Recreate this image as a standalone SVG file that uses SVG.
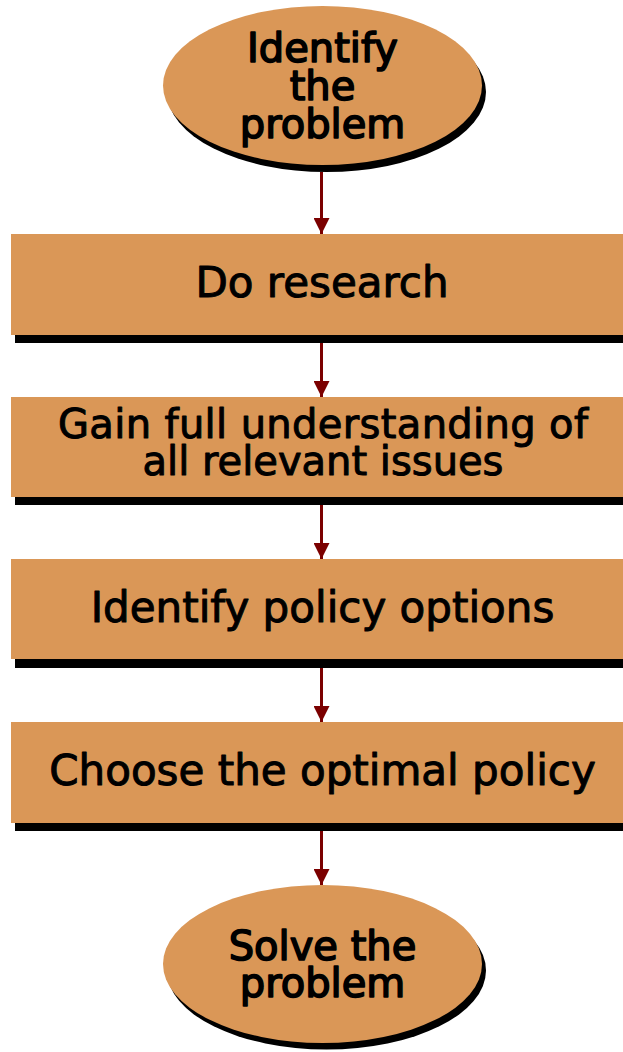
<svg xmlns="http://www.w3.org/2000/svg" width="623" height="1052" viewBox="0 0 623 1052">
  <style>
    .shape { fill: #DA9757; }
    .shadow { fill: #000000; }
    .label { font-family: "DejaVu Sans", "Liberation Sans", sans-serif; font-size: 42px; fill: #000000; stroke: #000000; stroke-width: 1; stroke-linejoin: round; text-anchor: middle; }
    .two-line { font-size: 40px; }
    .oval-label { font-size: 40px; stroke-width: 1.6; }
    .flow { stroke: #7B0000; stroke-width: 3; fill: none; marker-end: url(#head); }
  </style>
  <defs>
    <marker id="head" viewBox="0 0 16 16" refX="16" refY="8" markerWidth="16" markerHeight="16" markerUnits="userSpaceOnUse" orient="auto">
      <path d="M0,0 L16,8 L0,16 Z" fill="#7B0000"/>
    </marker>
  </defs>
  <rect width="623" height="1052" fill="#ffffff"/>

  <!-- connectors -->
  <g id="connectors">
    <line class="flow" x1="321.5" y1="172" x2="321.5" y2="234"/>
    <line class="flow" x1="321.5" y1="343" x2="321.5" y2="397"/>
    <line class="flow" x1="321.5" y1="505" x2="321.5" y2="559"/>
    <line class="flow" x1="321.5" y1="668" x2="321.5" y2="722"/>
    <line class="flow" x1="321.5" y1="831" x2="321.5" y2="885"/>
  </g>

  <!-- start -->
  <g id="identify-problem">
    <ellipse class="shadow" cx="326.5" cy="92" rx="159.5" ry="80"/>
    <ellipse class="shape" cx="322.5" cy="85.5" rx="159.5" ry="79.5"/>
    <text class="label oval-label" x="322.5" y="62">Identify</text>
    <text class="label oval-label" x="322.5" y="100">the</text>
    <text class="label oval-label" x="322.5" y="138">problem</text>
  </g>

  <g id="do-research">
    <rect class="shadow" x="15" y="242" width="620" height="101"/>
    <rect class="shape" x="11" y="234" width="620" height="101"/>
    <text class="label" x="322" y="297">Do research</text>
  </g>

  <g id="understand-issues">
    <rect class="shadow" x="15" y="405" width="620" height="100"/>
    <rect class="shape" x="11" y="397" width="620" height="100"/>
    <text class="label two-line" x="323" y="438" textLength="530" lengthAdjust="spacing">Gain full understanding of</text>
    <text class="label two-line" x="323" y="475">all relevant issues</text>
  </g>

  <g id="policy-options">
    <rect class="shadow" x="15" y="567" width="620" height="101"/>
    <rect class="shape" x="11" y="559" width="620" height="100"/>
    <text class="label" x="322.5" y="621.5">Identify policy options</text>
  </g>

  <g id="optimal-policy">
    <rect class="shadow" x="15" y="730" width="620" height="101"/>
    <rect class="shape" x="11" y="722" width="620" height="101"/>
    <text class="label" x="322.5" y="785">Choose the optimal policy</text>
  </g>

  <!-- end -->
  <g id="solve-problem">
    <ellipse class="shadow" cx="326.5" cy="970.5" rx="159.5" ry="79"/>
    <ellipse class="shape" cx="322.5" cy="964" rx="159.5" ry="79"/>
    <text class="label oval-label" x="322.5" y="960">Solve the</text>
    <text class="label oval-label" x="322.5" y="997">problem</text>
  </g>
</svg>
